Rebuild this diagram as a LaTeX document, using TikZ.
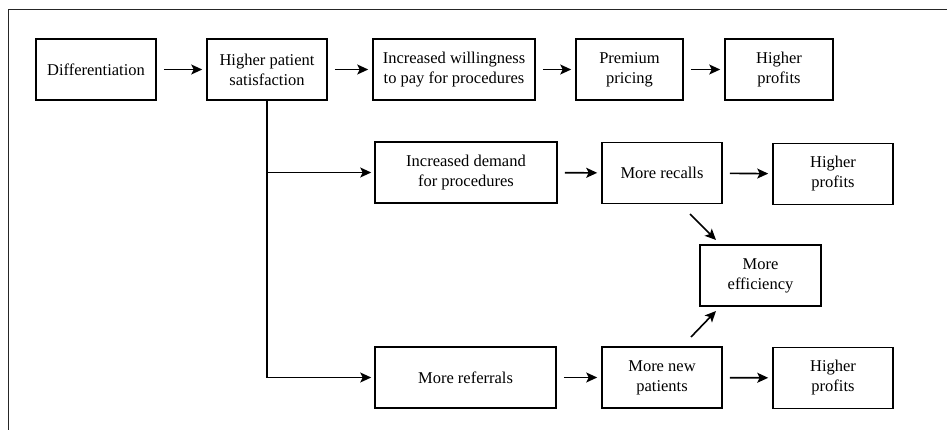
\documentclass[tikz,border=0pt]{standalone}
\usepackage{fontspec}
\setmainfont{Liberation Serif}
\usetikzlibrary{arrows.meta}
\begin{document}
\begin{tikzpicture}[x=1pt,y=-1pt,
  box/.style={draw=black,line width=1.6pt,minimum height=61pt,align=center,inner sep=2pt,
    font=\fontsize{16.5}{20}\selectfont},
  arr/.style={line width=1.6pt,-{Stealth[length=11pt,width=10pt,inset=2.5pt]}},
  harr/.style={arr,shorten <=7pt,shorten >=4pt},
  frame/.style={line width=0.9pt,draw=black!85}]
\useasboundingbox (0,0) rectangle (947,430);
\draw[frame] (8,430) -- (8,9) -- (947,9);
% row 1
\node[box,minimum width=120pt] (diff) at (96,69.5) {Differentiation};
\node[box,minimum width=120pt] (hps) at (267,69.5) {Higher patient\\satisfaction};
\node[box,minimum width=162pt] (wil) at (454,69.5) {Increased willingness\\to pay for procedures};
\node[box,minimum width=107pt] (prem) at (629.5,69.5) {Premium\\pricing};
\node[box,minimum width=108pt] (hpa) at (779,69.5) {Higher\\profits};
% row 2
\node[box,minimum width=182pt] (dem) at (466,172.5) {Increased demand\\for procedures};
\node[box,minimum width=120pt] (rec) at (662,173) {More recalls};
\node[box,minimum width=120pt] (hpb) at (833,174) {Higher\\profits};
% efficiency
\node[box,minimum width=121pt] (eff) at (760.5,275.5) {More\\efficiency};
% row 3
\node[box,minimum width=181pt] (ref) at (465.5,377.5) {More referrals};
\node[box,minimum width=120pt] (newp) at (662,377.5) {More new\\patients};
\node[box,minimum width=120pt] (hpc) at (833,378) {Higher\\profits};
% arrows
\draw[harr] (diff) -- (hps);
\draw[harr] (hps) -- (wil);
\draw[harr] (wil) -- (prem);
\draw[harr] (prem) -- (hpa);
\draw[harr] (dem) -- (rec);
\draw[harr] (rec) -- (hpb);
\draw[harr] (ref) -- (newp);
\draw[harr] (newp) -- (hpc);
\draw[arr,shorten >=3pt] (hps.south) |- (dem.west);
\draw[arr,shorten >=3pt] (hps.south) |- (ref.west);
\coordinate (r1) at (690,214);
\coordinate (e1) at (716,240);
\coordinate (n1) at (691,337);
\coordinate (e2) at (716,311);
\draw[arr] (r1) -- (e1);
\draw[arr] (n1) -- (e2);
\end{tikzpicture}
\end{document}
